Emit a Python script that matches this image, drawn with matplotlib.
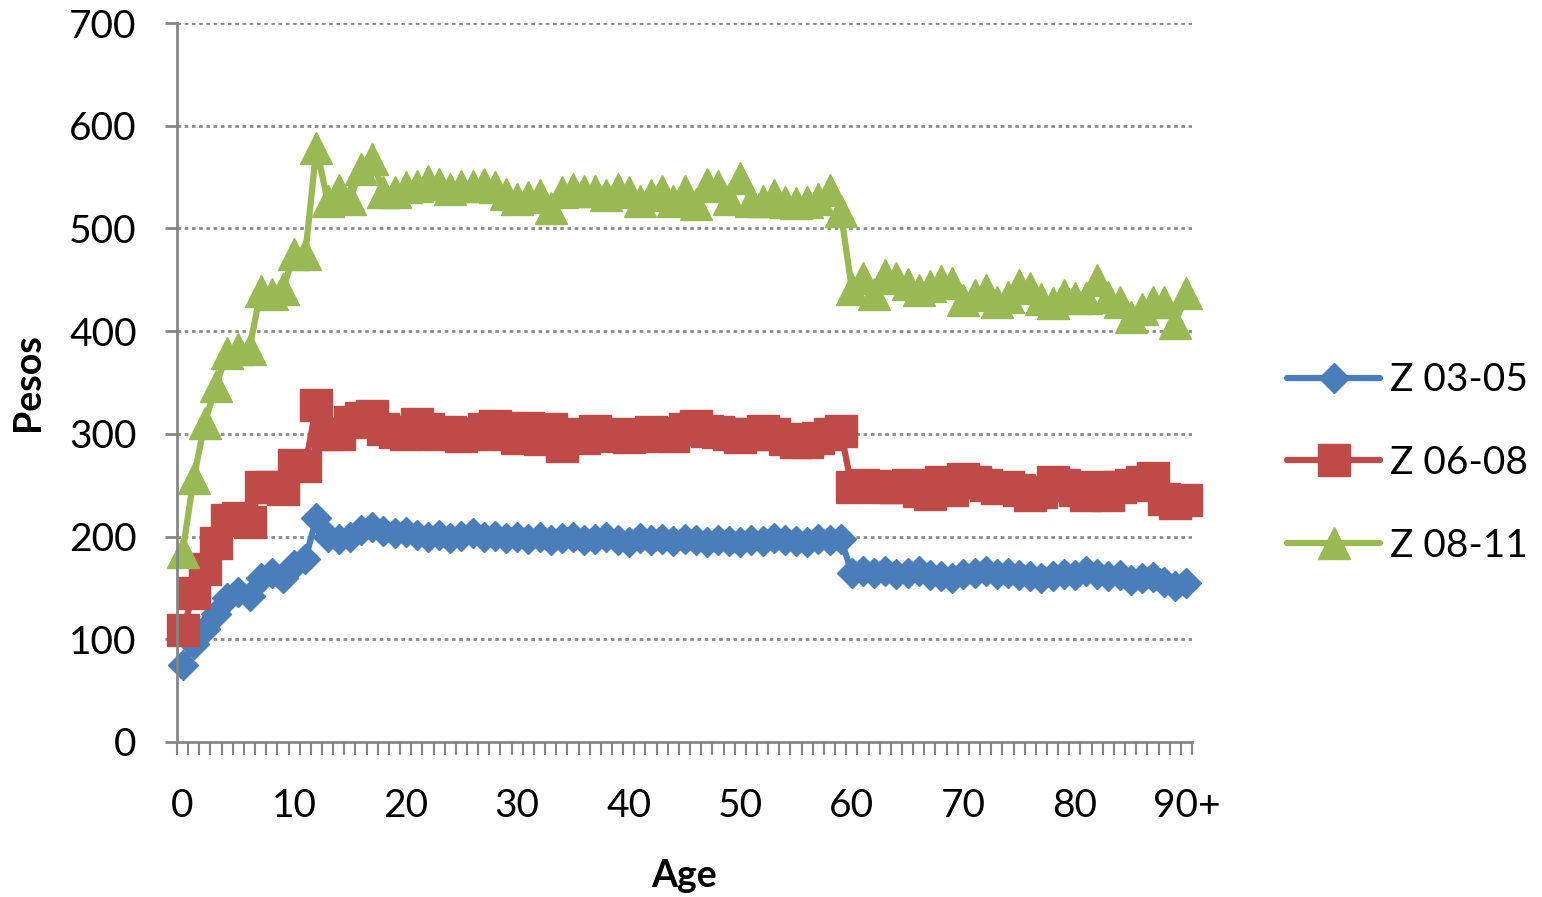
import numpy as np
import matplotlib
matplotlib.use("Agg")
import matplotlib.pyplot as plt

plt.rcParams['font.family'] = ['Lato', 'DejaVu Sans']

# edades 0..90 (90 = "90+")
ages = np.arange(0, 91)
tick_ages = [0, 10, 20, 30, 40, 50, 60, 70, 80, 90]
tick_labels = ['0', '10', '20', '30', '40', '50', '60', '70', '80', '90+']

z03_05 = [75, 95, 110, 125, 140, 146, 142, 160, 165, 160,
          172, 178, 218, 200, 198, 200, 206, 209, 205, 203,
          204, 202, 200, 202, 199, 201, 203, 200, 201, 199,
          200, 198, 200, 197, 199, 200, 197, 198, 200, 197,
          195, 199, 197, 198, 196, 198, 197, 195, 197, 196,
          195, 197, 196, 199, 197, 196, 195, 198, 197, 198,
          165, 166, 165, 166, 164, 165, 166, 163, 162, 160,
          164, 165, 166, 164, 165, 163, 162, 160, 162, 164,
          163, 166, 164, 162, 163, 158, 160, 161, 156, 152,
          155]

z06_08 = [109, 145, 168, 194, 216, 218, 214, 248, 248, 246,
          270, 269, 328, 300, 300, 312, 315, 317, 305, 302,
          300, 310, 305, 300, 302, 298, 300, 305, 308, 300,
          296, 306, 295, 305, 288, 300, 296, 303, 298, 300,
          297, 298, 302, 301, 298, 305, 308, 303, 302, 300,
          297, 300, 303, 300, 295, 292, 292, 296, 300, 303,
          248, 250, 249, 248, 248, 250, 244, 241, 253, 245,
          256, 253, 250, 247, 248, 245, 240, 243, 253, 250,
          245, 240, 248, 240, 248, 250, 253, 257, 237, 233,
          236]

z08_11 = [185, 257, 311, 347, 379, 383, 383, 439, 436, 441,
          475, 475, 578, 527, 537, 529, 558, 568, 535, 535,
          540, 541, 546, 543, 538, 541, 541, 543, 540, 534,
          529, 531, 533, 520, 535, 538, 536, 536, 533, 538,
          535, 527, 533, 536, 527, 536, 524, 543, 541, 529,
          549, 527, 527, 533, 526, 525, 526, 529, 537, 517,
          441, 452, 436, 455, 452, 446, 440, 444, 449, 447,
          430, 435, 440, 428, 433, 445, 442, 431, 427, 435,
          432, 432, 450, 433, 428, 414, 422, 428, 428, 408,
          437]

series = [
    ('Z 03-05', z03_05, '#4A7EBB', 'D', 15),
    ('Z 06-08', z06_08, '#BE4B48', 's', 23),
    ('Z 08-11', z08_11, '#98B954', '^', 23),
]

fig = plt.figure(figsize=(15.42, 8.97), dpi=100)
ax = fig.add_axes([177/1542, 1 - 742/897, (1192 - 177)/1542, (742 - 23)/897])

for name, vals, col, mk, ms in series:
    ax.plot(ages, vals, color=col, lw=4.5, marker=mk, markersize=ms,
            markerfacecolor=col, markeredgecolor=col, markeredgewidth=1,
            label=name, solid_joinstyle='round', solid_capstyle='round',
            clip_on=False)

gray = '#868686'
ax.set_xlim(-0.5, 90.5)
ax.set_ylim(0, 700)
ax.set_yticks(range(0, 701, 100))
ax.set_xticks(tick_ages)
ax.set_xticklabels(tick_labels)
ax.set_xticks(np.arange(-0.5, 91, 1), minor=True)

for y in range(100, 701, 100):
    ax.axhline(y, color='#8c8c8c', lw=2, linestyle=(0, (1.3, 1.3)), zorder=0)

for s in ['top', 'right']:
    ax.spines[s].set_visible(False)
for s in ['left', 'bottom']:
    ax.spines[s].set_color(gray)
    ax.spines[s].set_linewidth(2)

ax.tick_params(axis='y', direction='out', length=9, width=2, color=gray,
               labelsize=28, pad=20)
ax.tick_params(axis='x', which='major', length=0, labelsize=28, pad=33)
ax.tick_params(axis='x', which='minor', direction='out', length=9, width=1.5,
               color=gray)

ax.set_xlabel('Age', fontsize=27, fontweight='bold', labelpad=25)
ax.set_ylabel('Pesos', fontsize=27, fontweight='bold', labelpad=17)

fig.legend(loc='center left', bbox_to_anchor=(1287/1542, 1 - 463/897),
           frameon=False, fontsize=28, handlelength=2.4, handletextpad=0.25,
           labelspacing=1.2, borderpad=0, borderaxespad=0)

fig.savefig('out.png', dpi=100)
